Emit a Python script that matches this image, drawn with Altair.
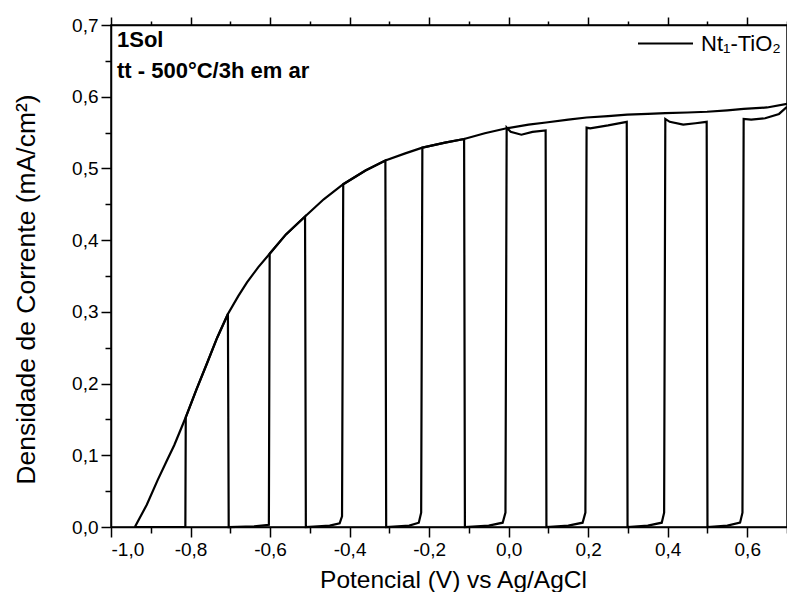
import altair as alt
import pandas as pd

# ---- data ----
amostra = "Nt\u2081-TiO\u2082"

# continuous (illuminated) curve
potencial_env = [-0.940, -0.910, -0.883, -0.860, -0.841, -0.812, -0.785, -0.758, -0.733, -0.706,
                 -0.680, -0.658, -0.630, -0.601, -0.560, -0.512, -0.465, -0.416, -0.360, -0.310,
                 -0.260, -0.217, -0.160, -0.112, -0.060, -0.005, 0.050, 0.094, 0.150, 0.196,
                 0.250, 0.298, 0.350, 0.394, 0.450, 0.499, 0.550, 0.591, 0.650, 0.700]
corrente_env = [0.000, 0.031, 0.065, 0.092, 0.114, 0.153, 0.192, 0.229, 0.264, 0.297,
                0.322, 0.341, 0.362, 0.381, 0.408, 0.433, 0.457, 0.478, 0.497, 0.511,
                0.521, 0.529, 0.536, 0.541, 0.549, 0.556, 0.561, 0.564, 0.568, 0.571,
                0.573, 0.575, 0.576, 0.577, 0.578, 0.579, 0.581, 0.583, 0.585, 0.590]

# chopped-light trace (vertices)
potencial_pulso = [-0.940, -0.813,
                   -0.812, -0.785, -0.758, -0.733, -0.706, -0.704,
                   -0.640, -0.603,
                   -0.601, -0.560, -0.512, -0.510,
                   -0.450, -0.425, -0.419,
                   -0.416, -0.360, -0.310, -0.308,
                   -0.250, -0.226, -0.220,
                   -0.217, -0.160, -0.112, -0.110,
                   -0.050, -0.015, -0.008,
                   -0.005, 0.005, 0.032, 0.060, 0.093, 0.095,
                   0.150, 0.186, 0.193,
                   0.196, 0.205, 0.250, 0.297, 0.299,
                   0.350, 0.385, 0.391,
                   0.394, 0.405, 0.439, 0.470, 0.498, 0.500,
                   0.550, 0.582, 0.588,
                   0.591, 0.610, 0.645, 0.680, 0.700]
corrente_pulso = [0.000, 0.000,
                  0.153, 0.192, 0.229, 0.264, 0.297, 0.000,
                  0.001, 0.003,
                  0.381, 0.408, 0.433, 0.000,
                  0.002, 0.005, 0.015,
                  0.478, 0.497, 0.511, 0.000,
                  0.002, 0.006, 0.020,
                  0.529, 0.536, 0.541, 0.000,
                  0.002, 0.006, 0.020,
                  0.557, 0.551, 0.547, 0.551, 0.553, 0.000,
                  0.002, 0.006, 0.020,
                  0.557, 0.556, 0.560, 0.565, 0.000,
                  0.002, 0.006, 0.020,
                  0.569, 0.565, 0.561, 0.563, 0.565, 0.000,
                  0.002, 0.006, 0.020,
                  0.569, 0.568, 0.570, 0.576, 0.586]

x_major = [-1.0, -0.8, -0.6, -0.4, -0.2, 0.0, 0.2, 0.4, 0.6]
x_minor = [-0.9, -0.7, -0.5, -0.3, -0.1, 0.1, 0.3, 0.5, 0.7]
y_major = [0.0, 0.1, 0.2, 0.3, 0.4, 0.5, 0.6, 0.7]
y_minor = [0.05, 0.15, 0.25, 0.35, 0.45, 0.55, 0.65]

anotacao_1 = "1Sol"
anotacao_2 = "tt - 500\u00b0C/3h em ar"
titulo_x = "Potencial (V) vs Ag/AgCl"
titulo_y = "Densidade de Corrente (mA/cm\u00b2)"

# ---- table ----
rows = []
for i, (p, c) in enumerate(zip(potencial_env, corrente_env)):
    rows.append({"potencial": p, "corrente": c, "traco": "continuo", "ordem": i, "amostra": amostra})
for i, (p, c) in enumerate(zip(potencial_pulso, corrente_pulso)):
    rows.append({"potencial": p, "corrente": c, "traco": "pulsado", "ordem": i, "amostra": amostra})
df = pd.DataFrame(rows)

FONT = "Liberation Sans"
label_expr = "(datum.value < 0 ? '-' : '') + replace(format(abs(datum.value), '.1f'), '.', ',')"

x_scale = alt.Scale(domain=[-1.0, 0.7], nice=False, zero=False)
y_scale = alt.Scale(domain=[0.0, 0.7], nice=False, zero=False)

common_axis = dict(grid=False, domainColor="black", domainWidth=1.5, tickColor="black",
                   tickWidth=1.5, labelColor="black", labelFont=FONT, labelFontSize=19,
                   titleFont=FONT, titleFontWeight="normal", titleColor="black")

base = alt.Chart(df)

main = base.mark_line(strokeWidth=2.2, interpolate="linear").encode(
    x=alt.X("potencial:Q", scale=x_scale,
            axis=alt.Axis(orient="bottom", values=x_major, labelExpr=label_expr, tickSize=10,
                          labelPadding=3, title=titulo_x, titleX=342, titleY=60, titleFontSize=24.5,
                          titleBaseline="alphabetic", titleAnchor="middle", **common_axis)),
    y=alt.Y("corrente:Q", scale=y_scale,
            axis=alt.Axis(orient="left", values=y_major, labelExpr=label_expr, tickSize=10,
                          labelPadding=3, title=titulo_y, titleX=-71, titleY=264, titleFontSize=26.5,
                          titleBaseline="bottom", titleAngle=270, **common_axis)),
    color=alt.Color("amostra:N", scale=alt.Scale(domain=[amostra], range=["black"]),
                    legend=alt.Legend(title=None, orient="none", legendX=526, legendY=-10,
                                      symbolType="stroke", symbolSize=3025, symbolStrokeWidth=2,
                                      symbolStrokeColor="black", labelFont=FONT, labelFontSize=22,
                                      labelColor="black", labelOffset=7, padding=0)),
    detail="traco:N",
    order=alt.Order("ordem:Q"),
)

minor_xy = base.mark_point(opacity=0, size=1).encode(
    x=alt.X("potencial:Q", scale=x_scale,
            axis=alt.Axis(orient="bottom", values=x_minor, labels=False, title=None, tickSize=6,
                          domain=False, grid=False, tickColor="black", tickWidth=1.5)),
    y=alt.Y("corrente:Q", scale=y_scale,
            axis=alt.Axis(orient="left", values=y_minor, labels=False, title=None, tickSize=6,
                          domain=False, grid=False, tickColor="black", tickWidth=1.5)),
)

top_major = base.mark_point(opacity=0, size=1).encode(
    x=alt.X("potencial:Q", scale=x_scale,
            axis=alt.Axis(orient="top", values=x_major, labels=False, title=None, tickSize=8,
                          domainColor="black", domainWidth=1.5, grid=False, tickColor="black", tickWidth=1.5)),
    y=alt.Y("corrente:Q", scale=y_scale, axis=None),
)

top_minor = base.mark_point(opacity=0, size=1).encode(
    x=alt.X("potencial:Q", scale=x_scale,
            axis=alt.Axis(orient="top", values=x_minor, labels=False, title=None, tickSize=4,
                          domain=False, grid=False, tickColor="black", tickWidth=1.5)),
    y=alt.Y("corrente:Q", scale=y_scale, axis=None),
)

ann_df = pd.DataFrame({"k": [0]})
ann1 = alt.Chart(ann_df).mark_text(text=anotacao_1, align="left", baseline="alphabetic",
                                   font=FONT, fontWeight="bold", fontSize=22, color="black").encode(
    x=alt.value(6), y=alt.value(22))
ann2 = alt.Chart(ann_df).mark_text(text=anotacao_2, align="left", baseline="alphabetic",
                                   font=FONT, fontWeight="bold", fontSize=22, color="black").encode(
    x=alt.value(6), y=alt.value(53))

chart = alt.layer(main, minor_xy, top_major, top_minor, ann1, ann2).resolve_axis(
    x="independent", y="independent"
).properties(
    width=676, height=502,
    padding={"left": 103, "top": 17, "right": 0, "bottom": 65},
    autosize=alt.AutoSizeParams(type="none"),
).configure_view(stroke="black", strokeWidth=1.5)

chart.save("out.html", embed_options={"renderer": "svg", "actions": False})
